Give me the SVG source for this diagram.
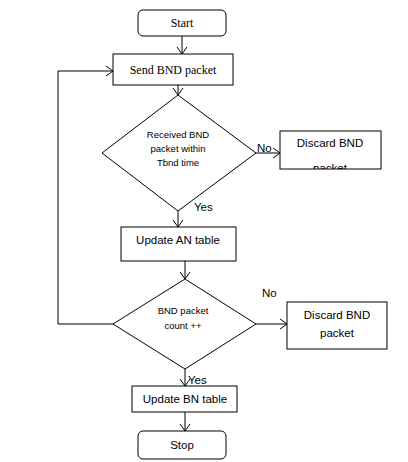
<svg xmlns="http://www.w3.org/2000/svg" width="408" height="462" viewBox="0 0 408 462">
<style>
.b{fill:#fff;stroke:#000;stroke-width:1}
.c{fill:none;stroke:#000;stroke-width:1}
.s{font-family:"Liberation Serif",serif;font-size:12px;text-anchor:middle}
.t{font-family:"Liberation Sans",sans-serif;font-size:11.5px;text-anchor:middle}
.d{font-family:"Liberation Sans",sans-serif;font-size:9.5px;text-anchor:middle}
.l{font-family:"Liberation Sans",sans-serif;font-size:11.5px}
</style>
<defs>
<marker id="a" markerWidth="10" markerHeight="12" refX="8" refY="6" orient="auto" markerUnits="userSpaceOnUse">
<polyline points="1,1 8,6 1,11" fill="none" stroke="#000" stroke-width="1"/>
</marker>
<clipPath id="cp1"><rect x="280" y="131" width="101" height="38"/></clipPath>
</defs>
<rect width="408" height="462" fill="#fff"/>
<g id="connectors">
<line class="c" x1="182" y1="36" x2="182" y2="54" marker-end="url(#a)"/>
<line class="c" x1="178" y1="85" x2="178" y2="95" marker-end="url(#a)"/>
<line class="c" x1="256" y1="153" x2="280" y2="153" marker-end="url(#a)"/>
<line class="c" x1="178" y1="211" x2="178" y2="227" marker-end="url(#a)"/>
<line class="c" x1="185" y1="261" x2="185" y2="279" marker-end="url(#a)"/>
<line class="c" x1="256" y1="324" x2="287" y2="324" marker-end="url(#a)"/>
<polyline class="c" points="113,324 58,324 58,71 113,71" marker-end="url(#a)"/>
<line class="c" x1="185" y1="369" x2="185" y2="386" marker-end="url(#a)"/>
<line class="c" x1="185" y1="412" x2="185" y2="431" marker-end="url(#a)"/>
<text class="l" x="257" y="152">No</text>
<text class="l" x="194" y="211">Yes</text>
<text class="l" x="262" y="297">No</text>
<text class="l" x="188" y="384">Yes</text>
</g>
<g id="start">
<rect class="b" x="138" y="10" width="88" height="26" rx="5"/>
<text class="s" x="182" y="27">Start</text>
</g>
<g id="send">
<rect class="b" x="113" y="54" width="120" height="31"/>
<text class="s" x="173" y="74">Send BND packet</text>
</g>
<g id="decision1">
<polygon class="b" points="178,95 256,153 178,211 102,153"/>
<text class="d" x="178" y="138">Received BND</text>
<text class="d" x="178" y="152">packet within</text>
<text class="d" x="178" y="166">Tbnd time</text>
</g>
<g id="discard1">
<rect class="b" x="280" y="131" width="101" height="38"/>
<g clip-path="url(#cp1)">
<text class="t" x="330" y="147">Discard BND</text>
<text class="t" x="330" y="172">packet</text>
</g>
</g>
<g id="updateAN">
<rect class="b" x="121" y="227" width="115" height="34"/>
<text class="t" x="178" y="244">Update AN table</text>
</g>
<g id="decision2">
<polygon class="b" points="185,279 256,324 185,369 113,324"/>
<text class="d" x="183" y="314">BND packet</text>
<text class="d" x="183" y="329">count ++</text>
</g>
<g id="discard2">
<rect class="b" x="287" y="302" width="100" height="47"/>
<text class="t" x="337" y="319">Discard BND</text>
<text class="t" x="337" y="337">packet</text>
</g>
<g id="updateBN">
<rect class="b" x="132" y="386" width="105" height="26"/>
<text class="t" x="185" y="403">Update BN table</text>
</g>
<g id="stop">
<rect class="b" x="138" y="431" width="88" height="28" rx="5"/>
<text class="t" x="182" y="449">Stop</text>
</g>
</svg>
